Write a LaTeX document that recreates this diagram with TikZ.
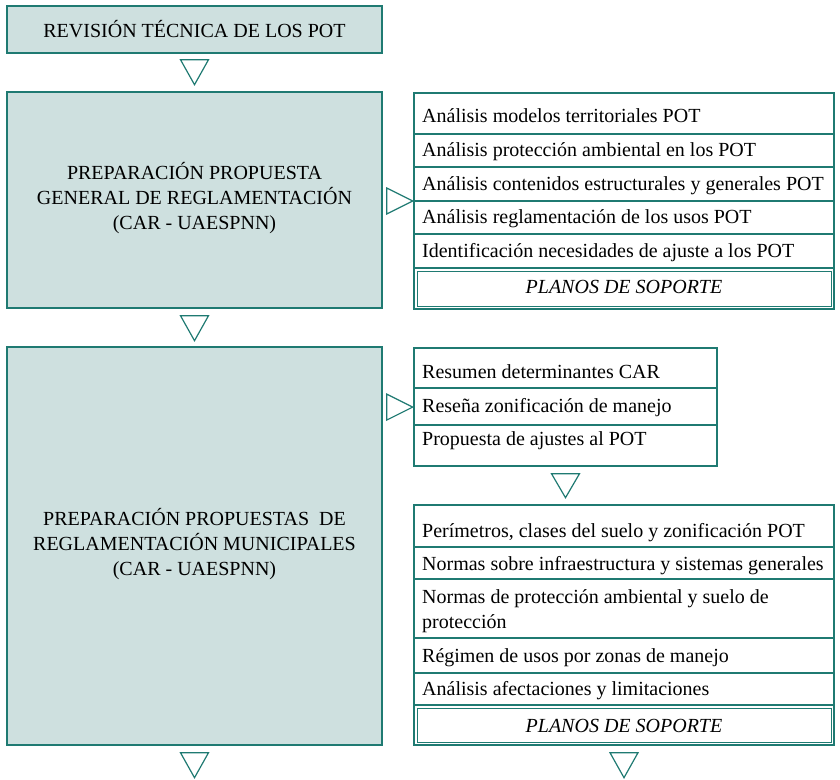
\documentclass[tikz,border=0pt]{standalone}
\usepackage{fontspec}
\setmainfont{Liberation Serif}
\usetikzlibrary{calc}
\definecolor{tealline}{HTML}{1F7A72}
\definecolor{tealfill}{HTML}{CEE0DF}
\begin{document}
\begin{tikzpicture}[x=1pt,y=-1pt,
  font=\fontsize{20}{25}\selectfont,
  mainbox/.style={draw=tealline, fill=tealfill, line width=1.4pt, inner sep=0pt, align=center},
  panel/.style={draw=tealline, line width=1.4pt, inner sep=0pt},
  innerbox/.style={draw=tealline, line width=0.9pt, inner sep=0pt},
  sepline/.style={draw=tealline, line width=1.2pt},
  tri/.style={draw=tealline, line width=1.2pt, fill=white, line join=miter},
  item/.style={anchor=base west, inner sep=0pt},
  planos/.style={anchor=base, inner sep=0pt, font=\fontsize{20}{25}\selectfont\itshape}
]
\useasboundingbox (0,0) rectangle (840,779);

% main boxes
\node[mainbox, minimum width=375pt, minimum height=47pt] (b1) at (194.5,29.5) {REVISIÓN TÉCNICA DE LOS POT};
\node[mainbox, minimum width=375pt, minimum height=216pt] (b2) at (194.5,200) {};
\node[align=center, inner sep=0pt] (b2t) at (194.5,198) {PREPARACIÓN PROPUESTA\\GENERAL DE REGLAMENTACIÓN\\(CAR - UAESPNN)};
\node[mainbox, minimum width=375pt, minimum height=398pt] (b3) at (194.5,546) {};
\node[align=center, inner sep=0pt] (b3t) at (194.5,544) {PREPARACIÓN PROPUESTAS~~DE\\REGLAMENTACIÓN MUNICIPALES\\(CAR - UAESPNN)};

% panel 1
\node[panel, minimum width=420pt, minimum height=216pt] (p1) at (624,201) {};
\foreach \yy in {134,167,201,234,268} \draw[sepline] (p1.west |- 0,\yy) -- (p1.east |- 0,\yy);
\node[innerbox, minimum width=414pt, minimum height=35pt] (p1pl) at (624,288.5) {};
\node[item] (a1) at (422,122) {Análisis modelos territoriales POT};
\node[item] (a2) at (422,156) {Análisis protección ambiental en los POT};
\node[item] (a3) at (422,190) {Análisis contenidos estructurales y generales POT};
\node[item] (a4) at (422,223) {Análisis reglamentación de los usos POT};
\node[item] (a5) at (422,257) {Identificación necesidades de ajuste a los POT};
\node[planos] (a6) at (624,293) {PLANOS DE SOPORTE};

% panel 2
\node[panel, minimum width=303pt, minimum height=118pt] (p2) at (565.5,407) {};
\foreach \yy in {388,425} \draw[sepline] (p2.west |- 0,\yy) -- (p2.east |- 0,\yy);
\node[item] (c1) at (422,378) {Resumen determinantes CAR};
\node[item] (c2) at (422,412) {Reseña zonificación de manejo};
\node[item] (c3) at (422,445) {Propuesta de ajustes al POT};

% panel 3
\node[panel, minimum width=420pt, minimum height=240pt] (p3) at (624,625) {};
\foreach \yy in {547,579,638,673,705} \draw[sepline] (p3.west |- 0,\yy) -- (p3.east |- 0,\yy);
\node[innerbox, minimum width=414pt, minimum height=34pt] (p3pl) at (624,725) {};
\node[item] (d1) at (422,537) {Perímetros, clases del suelo y zonificación POT};
\node[item] (d2) at (422,570) {Normas sobre infraestructura y sistemas generales};
\node[item] (d3) at (422,603) {Normas de protección ambiental y suelo de};
\node[item] (d3b) at (422,628) {protección};
\node[item] (d4) at (422,662) {Régimen de usos por zonas de manejo};
\node[item] (d5) at (422,695) {Análisis afectaciones y limitaciones};
\node[planos] (d6) at (624,732) {PLANOS DE SOPORTE};

% down triangles
\draw[tri] ($(b1.south)+(-14,6)$) -- ++(28,0) -- ++(-14,25) -- cycle;
\draw[tri] ($(b2.south)+(-14,7)$) -- ++(28,0) -- ++(-14,25) -- cycle;
\draw[tri] ($(b3.south)+(-14,7)$) -- ++(28,0) -- ++(-14,25) -- cycle;
\draw[tri] ($(p2.south)+(-14,7)$) -- ++(28,0) -- ++(-14,24) -- cycle;
\draw[tri] ($(p3.south)+(-14,7)$) -- ++(28,0) -- ++(-14,25) -- cycle;
% right triangles
\draw[tri] ($(b2.east |- p1.west)+(4,-13)$) -- ++(0,26) -- ++(26,-13) -- cycle;
\draw[tri] ($(b3.east |- c2.west)+(4,-13)$) -- ++(0,26) -- ++(26,-13) -- cycle;
\end{tikzpicture}
\end{document}
